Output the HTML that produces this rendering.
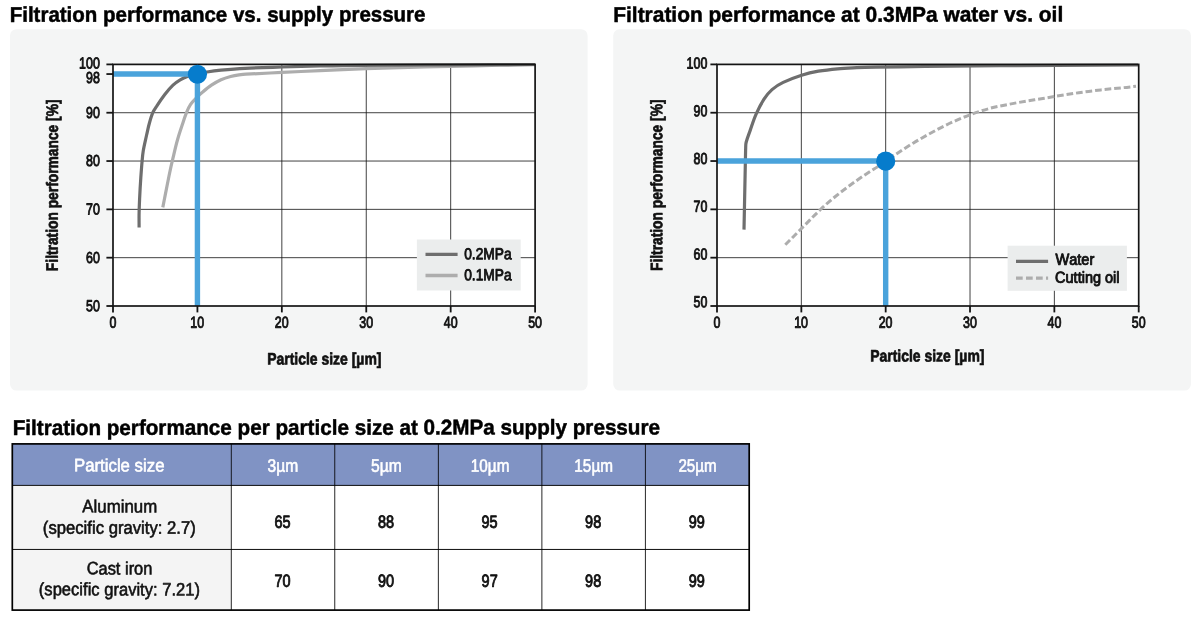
<!DOCTYPE html>
<html lang="en">
<head>
<meta charset="utf-8">
<title>Filtration performance</title>
<style>
html,body{margin:0;padding:0;background:#fff;}
body{width:1200px;height:625px;overflow:hidden;font-family:"Liberation Sans", Arial, Helvetica, sans-serif;}
svg{display:block;position:absolute;left:0;top:0;}
text{font-family:"Liberation Sans", Arial, Helvetica, sans-serif;font-kerning:none;stroke-linejoin:round;text-rendering:geometricPrecision;}
</style>
</head>
<body>
<svg width="1200" height="625" viewBox="0 0 1200 625">
<text transform="translate(9.67,21.88) skewY(-0.05) scale(0.9584,1)" font-size="21.4" font-weight="bold" fill="#000" stroke="#000" stroke-width="0.5">Filtration performance vs. supply pressure</text>
<text transform="translate(613.24,21.90) skewY(-0.05) scale(0.9782,1)" font-size="21.4" font-weight="bold" fill="#000" stroke="#000" stroke-width="0.5">Filtration performance at 0.3MPa water vs. oil</text>
<text transform="translate(12.66,434.98) skewY(-0.05) scale(0.9655,1)" font-size="21.4" font-weight="bold" fill="#000" stroke="#000" stroke-width="0.5">Filtration performance per particle size at 0.2MPa supply pressure</text>
<rect x="10" y="29.2" width="577.6" height="361.4" rx="6.5" ry="6.5" fill="#f4f5f5"/>
<rect x="613.2" y="29.2" width="577.8" height="361.4" rx="6.5" ry="6.5" fill="#f4f5f5"/>
<rect x="113.0" y="64.4" width="422.10" height="241.60" fill="#fff"/>
<line x1="197.42" y1="64.4" x2="197.42" y2="306.0" stroke="#111" stroke-width="0.8"/>
<line x1="281.84" y1="64.4" x2="281.84" y2="306.0" stroke="#111" stroke-width="0.8"/>
<line x1="366.26" y1="64.4" x2="366.26" y2="306.0" stroke="#111" stroke-width="0.8"/>
<line x1="450.68" y1="64.4" x2="450.68" y2="306.0" stroke="#111" stroke-width="0.8"/>
<line x1="113.0" y1="112.72" x2="535.1" y2="112.72" stroke="#111" stroke-width="0.8"/>
<line x1="113.0" y1="161.04" x2="535.1" y2="161.04" stroke="#111" stroke-width="0.8"/>
<line x1="113.0" y1="209.36" x2="535.1" y2="209.36" stroke="#111" stroke-width="0.8"/>
<line x1="113.0" y1="257.68" x2="535.1" y2="257.68" stroke="#111" stroke-width="0.8"/>
<path d="M162.8,207.4 C163.7,202.8 164.6,198.2 165.5,193.6 C166.7,187.7 167.8,181.9 169.0,176.0 C170.2,170.1 171.5,164.2 172.9,158.4 C174.4,152.1 175.8,145.7 177.6,139.5 C179.1,134.0 181.0,128.6 182.8,123.2 C183.9,119.7 185.0,116.2 186.4,112.8 C187.6,109.9 188.8,107.0 190.6,104.4 C192.4,101.7 194.7,99.5 197.0,97.2 C198.9,95.3 200.9,93.5 203.0,91.8 C205.7,89.5 208.4,87.2 211.4,85.2 C214.5,83.2 217.7,81.3 221.0,79.8 C224.1,78.4 227.3,77.4 230.6,76.5 C233.4,75.8 236.2,75.3 239.0,74.9 C241.3,74.6 243.7,74.3 246.0,74.2 C258.0,73.5 270.0,73.0 282.0,72.4 C294.7,71.8 307.3,71.2 320.0,70.6 C335.3,69.9 350.7,69.2 366.0,68.6 C377.3,68.2 388.7,67.9 400.0,67.6 C416.7,67.2 433.3,66.8 450.0,66.4 C466.7,66.0 483.3,65.6 500.0,65.2 C511.7,65.0 523.3,64.8 535.0,64.6" fill="none" stroke="#adadad" stroke-width="3.2"/>
<path d="M139.1,227.6 C139.1,222.7 139.0,217.9 139.1,213.0 C139.2,208.3 139.4,203.6 139.6,198.9 C139.9,191.9 140.3,184.8 140.8,177.8 C141.2,172.2 141.6,166.7 142.1,161.1 C142.4,157.6 142.7,154.0 143.3,150.5 C144.2,145.3 145.5,140.2 146.6,135.0 C147.5,131.2 148.2,127.3 149.3,123.5 C150.3,119.8 151.3,116.1 152.8,112.6 C153.7,110.4 155.1,108.5 156.4,106.6 C159.0,102.6 161.7,98.6 164.6,94.8 C167.2,91.4 169.9,88.1 173.0,85.2 C175.2,83.1 177.6,81.3 180.2,79.8 C182.7,78.3 185.3,77.2 188.0,76.2 C191.1,75.1 194.2,74.3 197.4,73.6 C200.6,72.9 203.8,72.5 207.0,72.0 C211.7,71.3 216.3,70.7 221.0,70.2 C229.0,69.4 237.0,68.7 245.0,68.3 C257.3,67.7 269.7,67.4 282.0,67.0 C294.7,66.6 307.3,66.3 320.0,66.0 C333.3,65.7 346.7,65.4 360.0,65.3 C390.0,65.0 420.0,65.0 450.0,64.9 C478.3,64.8 506.7,64.6 535.0,64.5" fill="none" stroke="#6e6e6e" stroke-width="3.2"/>
<path d="M113.0,74.06 H197.42 V306.0" fill="none" stroke="#4aa3db" stroke-width="5.4"/>
<rect x="113.0" y="64.4" width="422.10" height="241.60" fill="none" stroke="#141414" stroke-width="1.7"/>
<line x1="106.4" y1="64.40" x2="113.0" y2="64.40" stroke="#141414" stroke-width="1.8"/>
<line x1="106.4" y1="74.06" x2="113.0" y2="74.06" stroke="#141414" stroke-width="1.8"/>
<line x1="106.4" y1="112.72" x2="113.0" y2="112.72" stroke="#141414" stroke-width="1.8"/>
<line x1="106.4" y1="161.04" x2="113.0" y2="161.04" stroke="#141414" stroke-width="1.8"/>
<line x1="106.4" y1="209.36" x2="113.0" y2="209.36" stroke="#141414" stroke-width="1.8"/>
<line x1="106.4" y1="257.68" x2="113.0" y2="257.68" stroke="#141414" stroke-width="1.8"/>
<line x1="106.4" y1="306.00" x2="113.0" y2="306.00" stroke="#141414" stroke-width="1.8"/>
<line x1="113.00" y1="306.0" x2="113.00" y2="312.4" stroke="#141414" stroke-width="1.8"/>
<line x1="197.42" y1="306.0" x2="197.42" y2="312.4" stroke="#141414" stroke-width="1.8"/>
<line x1="281.84" y1="306.0" x2="281.84" y2="312.4" stroke="#141414" stroke-width="1.8"/>
<line x1="366.26" y1="306.0" x2="366.26" y2="312.4" stroke="#141414" stroke-width="1.8"/>
<line x1="450.68" y1="306.0" x2="450.68" y2="312.4" stroke="#141414" stroke-width="1.8"/>
<line x1="535.10" y1="306.0" x2="535.10" y2="312.4" stroke="#141414" stroke-width="1.8"/>
<circle cx="197.42" cy="74.26" r="9.6" fill="#067ccc"/>
<text transform="translate(79.10,68.50) skewY(0.05) scale(0.7767,1)" font-size="16.0" fill="#111" stroke="#111" stroke-width="0.9">100</text>
<text transform="translate(86.07,83.10) skewY(0.05) scale(0.7767,1)" font-size="16.0" fill="#111" stroke="#111" stroke-width="0.9">98</text>
<text transform="translate(86.01,117.90) skewY(0.05) scale(0.7767,1)" font-size="16.0" fill="#111" stroke="#111" stroke-width="0.9">90</text>
<text transform="translate(86.01,166.10) skewY(0.05) scale(0.7767,1)" font-size="16.0" fill="#111" stroke="#111" stroke-width="0.9">80</text>
<text transform="translate(86.01,214.60) skewY(0.05) scale(0.7767,1)" font-size="16.0" fill="#111" stroke="#111" stroke-width="0.9">70</text>
<text transform="translate(86.01,262.90) skewY(0.05) scale(0.7767,1)" font-size="16.0" fill="#111" stroke="#111" stroke-width="0.9">60</text>
<text transform="translate(86.01,311.30) skewY(0.05) scale(0.7767,1)" font-size="16.0" fill="#111" stroke="#111" stroke-width="0.9">50</text>
<text transform="translate(109.54,327.70) skewY(0.05) scale(0.7767,1)" font-size="16.0" fill="#111" stroke="#111" stroke-width="0.9">0</text>
<text transform="translate(190.28,327.70) skewY(0.05) scale(0.7767,1)" font-size="16.0" fill="#111" stroke="#111" stroke-width="0.9">10</text>
<text transform="translate(274.86,327.70) skewY(0.05) scale(0.7767,1)" font-size="16.0" fill="#111" stroke="#111" stroke-width="0.9">20</text>
<text transform="translate(359.36,327.70) skewY(0.05) scale(0.7767,1)" font-size="16.0" fill="#111" stroke="#111" stroke-width="0.9">30</text>
<text transform="translate(443.87,327.70) skewY(0.05) scale(0.7767,1)" font-size="16.0" fill="#111" stroke="#111" stroke-width="0.9">40</text>
<text transform="translate(528.18,327.70) skewY(0.05) scale(0.7767,1)" font-size="16.0" fill="#111" stroke="#111" stroke-width="0.9">50</text>
<text transform="translate(57.83,271.13) rotate(-90) skewY(0.05) scale(0.8312,1)" font-size="16.6" font-weight="bold" fill="#111" stroke="#111" stroke-width="0.7">Filtration performance [%]</text>
<text transform="translate(267.16,364.50) skewY(0.05) scale(0.8409,1)" font-size="16.6" font-weight="bold" fill="#111" stroke="#111" stroke-width="0.7">Particle size [µm]</text>
<rect x="416.9" y="239.5" width="103.8" height="51" fill="#ebeded"/>
<line x1="425.5" y1="254.4" x2="457.6" y2="254.4" stroke="#6e6e6e" stroke-width="3.3"/>
<line x1="425.5" y1="275.5" x2="457.6" y2="275.5" stroke="#adadad" stroke-width="3.3"/>
<text transform="translate(464.15,259.18) skewY(0.05) scale(0.8608,1)" font-size="16.0" fill="#111" stroke="#111" stroke-width="0.9">0.2MPa</text>
<text transform="translate(464.15,280.18) skewY(0.05) scale(0.8608,1)" font-size="16.0" fill="#111" stroke="#111" stroke-width="0.9">0.1MPa</text>
<rect x="717.0" y="64.4" width="421.70" height="241.60" fill="#fff"/>
<line x1="801.34" y1="64.4" x2="801.34" y2="306.0" stroke="#111" stroke-width="0.8"/>
<line x1="885.68" y1="64.4" x2="885.68" y2="306.0" stroke="#111" stroke-width="0.8"/>
<line x1="970.02" y1="64.4" x2="970.02" y2="306.0" stroke="#111" stroke-width="0.8"/>
<line x1="1054.36" y1="64.4" x2="1054.36" y2="306.0" stroke="#111" stroke-width="0.8"/>
<line x1="717.0" y1="112.72" x2="1138.7" y2="112.72" stroke="#111" stroke-width="0.8"/>
<line x1="717.0" y1="161.04" x2="1138.7" y2="161.04" stroke="#111" stroke-width="0.8"/>
<line x1="717.0" y1="209.36" x2="1138.7" y2="209.36" stroke="#111" stroke-width="0.8"/>
<line x1="717.0" y1="257.68" x2="1138.7" y2="257.68" stroke="#111" stroke-width="0.8"/>
<path d="M744,229.6 L744.5,205 L745.1,175 L745.6,150 C745.8,147.5 745.5,144.9 746.1,142.5 C747.1,138.4 748.8,134.4 750.2,130.4 C752.1,125.0 753.7,119.6 756.0,114.4 C758.3,109.2 760.9,104.0 764.0,99.2 C766.3,95.7 768.9,92.3 772.0,89.6 C775.3,86.7 779.2,84.3 783.2,82.4 C789.1,79.5 795.3,77.2 801.6,75.2 C807.1,73.5 812.7,72.2 818.4,71.2 C824.8,70.1 831.2,69.4 837.6,68.8 C844.0,68.2 850.4,68.0 856.8,67.7 C863.2,67.4 869.6,67.3 876.0,67.2 C884.0,67.0 892.0,66.9 900.0,66.8 C916.7,66.6 933.3,66.4 950.0,66.2 C966.7,66.0 983.3,65.8 1000.0,65.7 C1046.0,65.4 1092.0,65.2 1138.0,65.0" fill="none" stroke="#6e6e6e" stroke-width="3.2"/>
<path d="M785.3,244.8 C790.2,239.9 795.1,234.9 800.0,230.0 C806.7,223.3 813.1,216.5 820.0,210.0 C825.2,205.1 830.5,200.4 836.0,196.0 C842.5,190.8 849.2,185.8 856.0,181.0 C861.9,176.8 867.9,172.9 874.0,169.0 C877.8,166.6 881.9,164.5 885.6,162.0 C888.3,160.2 890.6,157.8 893.3,156.0 C899.8,151.6 906.4,147.3 913.1,143.2 C920.3,138.8 927.7,134.7 935.2,130.7 C941.0,127.6 946.9,124.6 952.9,121.9 C958.7,119.3 964.5,116.8 970.5,114.6 C977.0,112.2 983.7,110.0 990.4,108.2 C997.7,106.3 1005.1,105.0 1012.5,103.6 C1019.8,102.2 1027.2,101.0 1034.6,99.8 C1041.2,98.7 1047.9,97.6 1054.5,96.5 C1062.6,95.2 1070.7,93.9 1078.8,92.7 C1086.1,91.7 1093.5,90.7 1100.8,89.9 C1108.2,89.1 1115.5,88.5 1122.9,87.7 C1127.3,87.3 1131.6,86.8 1136.0,86.3" fill="none" stroke="#adadad" stroke-width="3" stroke-dasharray="6.7,2.9"/>
<path d="M717.0,161.04 H885.68 V306.0" fill="none" stroke="#4aa3db" stroke-width="5.4"/>
<rect x="717.0" y="64.4" width="421.70" height="241.60" fill="none" stroke="#141414" stroke-width="1.7"/>
<line x1="710.4" y1="64.40" x2="717.0" y2="64.40" stroke="#141414" stroke-width="1.8"/>
<line x1="710.4" y1="112.72" x2="717.0" y2="112.72" stroke="#141414" stroke-width="1.8"/>
<line x1="710.4" y1="161.04" x2="717.0" y2="161.04" stroke="#141414" stroke-width="1.8"/>
<line x1="710.4" y1="209.36" x2="717.0" y2="209.36" stroke="#141414" stroke-width="1.8"/>
<line x1="710.4" y1="257.68" x2="717.0" y2="257.68" stroke="#141414" stroke-width="1.8"/>
<line x1="710.4" y1="306.00" x2="717.0" y2="306.00" stroke="#141414" stroke-width="1.8"/>
<line x1="717.00" y1="306.0" x2="717.00" y2="312.4" stroke="#141414" stroke-width="1.8"/>
<line x1="801.34" y1="306.0" x2="801.34" y2="312.4" stroke="#141414" stroke-width="1.8"/>
<line x1="885.68" y1="306.0" x2="885.68" y2="312.4" stroke="#141414" stroke-width="1.8"/>
<line x1="970.02" y1="306.0" x2="970.02" y2="312.4" stroke="#141414" stroke-width="1.8"/>
<line x1="1054.36" y1="306.0" x2="1054.36" y2="312.4" stroke="#141414" stroke-width="1.8"/>
<line x1="1138.70" y1="306.0" x2="1138.70" y2="312.4" stroke="#141414" stroke-width="1.8"/>
<circle cx="885.68" cy="161.14" r="9.6" fill="#067ccc"/>
<text transform="translate(686.60,68.50) skewY(0.05) scale(0.7767,1)" font-size="16.0" fill="#111" stroke="#111" stroke-width="0.9">100</text>
<text transform="translate(693.51,116.25) skewY(0.05) scale(0.7767,1)" font-size="16.0" fill="#111" stroke="#111" stroke-width="0.9">90</text>
<text transform="translate(693.51,164.00) skewY(0.05) scale(0.7767,1)" font-size="16.0" fill="#111" stroke="#111" stroke-width="0.9">80</text>
<text transform="translate(693.51,211.75) skewY(0.05) scale(0.7767,1)" font-size="16.0" fill="#111" stroke="#111" stroke-width="0.9">70</text>
<text transform="translate(693.51,259.50) skewY(0.05) scale(0.7767,1)" font-size="16.0" fill="#111" stroke="#111" stroke-width="0.9">60</text>
<text transform="translate(693.51,307.25) skewY(0.05) scale(0.7767,1)" font-size="16.0" fill="#111" stroke="#111" stroke-width="0.9">50</text>
<text transform="translate(713.54,327.70) skewY(0.05) scale(0.7767,1)" font-size="16.0" fill="#111" stroke="#111" stroke-width="0.9">0</text>
<text transform="translate(794.20,327.70) skewY(0.05) scale(0.7767,1)" font-size="16.0" fill="#111" stroke="#111" stroke-width="0.9">10</text>
<text transform="translate(878.70,327.70) skewY(0.05) scale(0.7767,1)" font-size="16.0" fill="#111" stroke="#111" stroke-width="0.9">20</text>
<text transform="translate(963.12,327.70) skewY(0.05) scale(0.7767,1)" font-size="16.0" fill="#111" stroke="#111" stroke-width="0.9">30</text>
<text transform="translate(1047.55,327.70) skewY(0.05) scale(0.7767,1)" font-size="16.0" fill="#111" stroke="#111" stroke-width="0.9">40</text>
<text transform="translate(1131.78,327.70) skewY(0.05) scale(0.7767,1)" font-size="16.0" fill="#111" stroke="#111" stroke-width="0.9">50</text>
<text transform="translate(662.13,271.03) rotate(-90) skewY(0.05) scale(0.8307,1)" font-size="16.6" font-weight="bold" fill="#111" stroke="#111" stroke-width="0.7">Filtration performance [%]</text>
<text transform="translate(870.16,361.50) skewY(0.05) scale(0.8409,1)" font-size="16.6" font-weight="bold" fill="#111" stroke="#111" stroke-width="0.7">Particle size [µm]</text>
<rect x="1007.6" y="245.7" width="119.3" height="45.1" fill="#ebeded"/>
<line x1="1016" y1="261.3" x2="1048.1" y2="261.3" stroke="#6e6e6e" stroke-width="3.3"/>
<line x1="1016" y1="278.2" x2="1048.1" y2="278.2" stroke="#adadad" stroke-width="3.3" stroke-dasharray="6.7,3.3"/>
<text transform="translate(1055.45,264.73) skewY(0.05) scale(0.9113,1)" font-size="16.0" fill="#111" stroke="#111" stroke-width="0.9">Water</text>
<text transform="translate(1055.07,282.77) skewY(0.05) scale(0.9064,1)" font-size="16.0" fill="#111" stroke="#111" stroke-width="0.9">Cutting oil</text>
<rect x="12.3" y="443.9" width="736.90" height="41.50" fill="#8093c4"/>
<rect x="12.3" y="485.4" width="219.00" height="124.70" fill="#f4f4f4"/>
<line x1="231.3" y1="443.9" x2="231.3" y2="610.1" stroke="#000" stroke-width="0.85"/>
<line x1="334.75" y1="443.9" x2="334.75" y2="610.1" stroke="#000" stroke-width="0.85"/>
<line x1="438.36" y1="443.9" x2="438.36" y2="610.1" stroke="#000" stroke-width="0.85"/>
<line x1="541.89" y1="443.9" x2="541.89" y2="610.1" stroke="#000" stroke-width="0.85"/>
<line x1="645.42" y1="443.9" x2="645.42" y2="610.1" stroke="#000" stroke-width="0.85"/>
<line x1="12.3" y1="485.4" x2="749.2" y2="485.4" stroke="#000" stroke-width="0.95"/>
<line x1="12.3" y1="549.45" x2="749.2" y2="549.45" stroke="#000" stroke-width="0.95"/>
<rect x="12.3" y="443.9" width="736.90" height="166.20" fill="none" stroke="#000" stroke-width="1.7"/>
<text transform="translate(74.00,471.36) skewY(0.05) scale(0.9323,1)" font-size="18.0" fill="#fff" stroke="#fff" stroke-width="0.6">Particle size</text>
<text transform="translate(267.44,471.69) skewY(0.05) scale(0.8679,1)" font-size="18.0" fill="#fff" stroke="#fff" stroke-width="0.6">3µm</text>
<text transform="translate(370.94,471.69) skewY(0.05) scale(0.8688,1)" font-size="18.0" fill="#fff" stroke="#fff" stroke-width="0.6">5µm</text>
<text transform="translate(470.81,471.68) skewY(0.05) scale(0.8520,1)" font-size="18.0" fill="#fff" stroke="#fff" stroke-width="0.6">10µm</text>
<text transform="translate(574.34,471.68) skewY(0.05) scale(0.8520,1)" font-size="18.0" fill="#fff" stroke="#fff" stroke-width="0.6">15µm</text>
<text transform="translate(678.40,471.68) skewY(0.05) scale(0.8429,1)" font-size="18.0" fill="#fff" stroke="#fff" stroke-width="0.6">25µm</text>
<text transform="translate(274.41,527.70) skewY(0.05) scale(0.8226,1)" font-size="17.6" fill="#111" stroke="#111" stroke-width="0.9">65</text>
<text transform="translate(274.39,586.70) skewY(0.05) scale(0.8226,1)" font-size="17.6" fill="#111" stroke="#111" stroke-width="0.9">70</text>
<text transform="translate(378.00,527.70) skewY(0.05) scale(0.8226,1)" font-size="17.6" fill="#111" stroke="#111" stroke-width="0.9">88</text>
<text transform="translate(377.95,586.70) skewY(0.05) scale(0.8226,1)" font-size="17.6" fill="#111" stroke="#111" stroke-width="0.9">90</text>
<text transform="translate(481.54,527.70) skewY(0.05) scale(0.8226,1)" font-size="17.6" fill="#111" stroke="#111" stroke-width="0.9">95</text>
<text transform="translate(481.60,586.70) skewY(0.05) scale(0.8226,1)" font-size="17.6" fill="#111" stroke="#111" stroke-width="0.9">97</text>
<text transform="translate(585.08,527.70) skewY(0.05) scale(0.8226,1)" font-size="17.6" fill="#111" stroke="#111" stroke-width="0.9">98</text>
<text transform="translate(585.08,586.70) skewY(0.05) scale(0.8226,1)" font-size="17.6" fill="#111" stroke="#111" stroke-width="0.9">98</text>
<text transform="translate(688.76,527.70) skewY(0.05) scale(0.8226,1)" font-size="17.6" fill="#111" stroke="#111" stroke-width="0.9">99</text>
<text transform="translate(688.76,586.70) skewY(0.05) scale(0.8226,1)" font-size="17.6" fill="#111" stroke="#111" stroke-width="0.9">99</text>
<text transform="translate(82.35,512.37) skewY(0.05) scale(0.9357,1)" font-size="18.0" fill="#111" stroke="#111" stroke-width="0.6">Aluminum</text>
<text transform="translate(42.84,533.63) skewY(0.05) scale(0.9265,1)" font-size="18.0" fill="#111" stroke="#111" stroke-width="0.6">(specific gravity: 2.7)</text>
<text transform="translate(86.64,574.37) skewY(0.05) scale(0.9129,1)" font-size="18.0" fill="#111" stroke="#111" stroke-width="0.6">Cast iron</text>
<text transform="translate(38.85,595.33) skewY(0.05) scale(0.9203,1)" font-size="18.0" fill="#111" stroke="#111" stroke-width="0.6">(specific gravity: 7.21)</text>
</svg>
</body>
</html>
